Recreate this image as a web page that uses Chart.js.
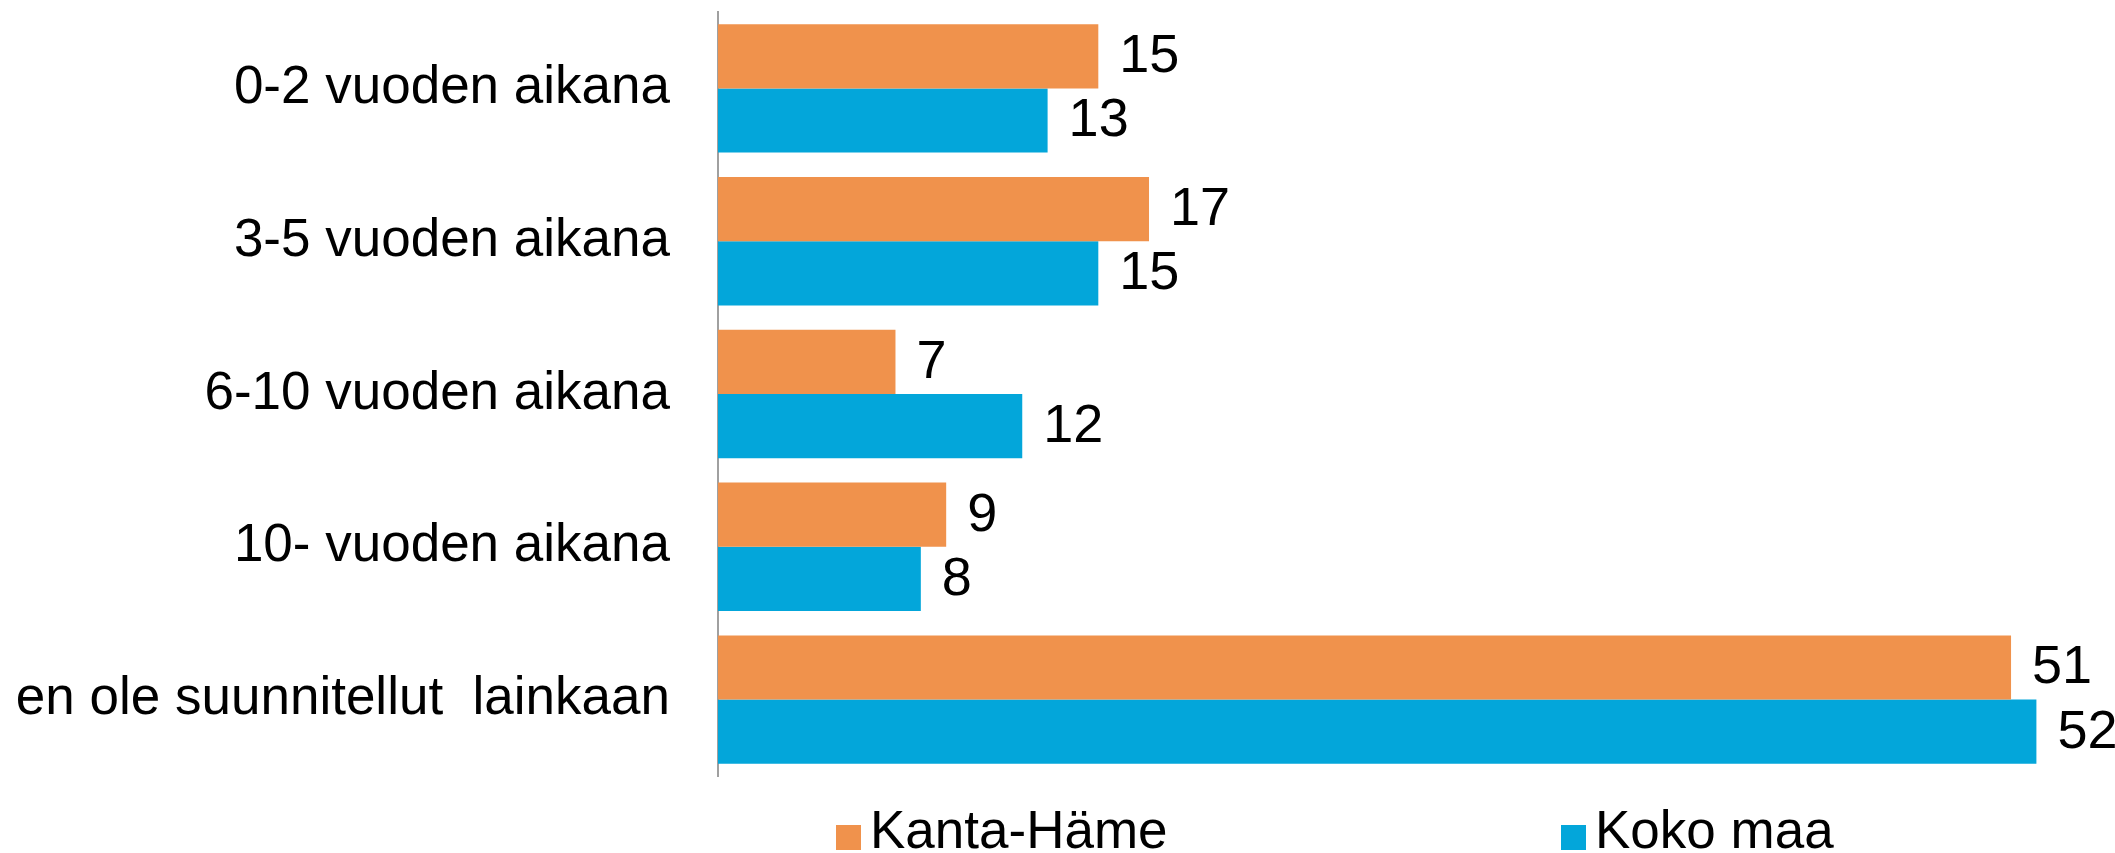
<!DOCTYPE html>
<html>
<head>
<meta charset="utf-8">
<script src="https://cdn.jsdelivr.net/npm/chart.js@4/dist/chart.umd.min.js"></script>
<style>
  html, body { margin: 0; padding: 0; background: #fff; overflow: hidden; }
  #wrap { width: 2115px; height: 853px; position: relative; }
</style>
</head>
<body>
<div id="wrap"><canvas id="myChart"></canvas></div>
<script>
// categories (y axis)
const kategoriat = ["0-2 vuoden aikana", "3-5 vuoden aikana", "6-10 vuoden aikana", "10- vuoden aikana", "en ole suunnitellut  lainkaan"];
// series
const sarjat = ["Kanta-Häme", "Koko maa"];
const kantaHame = [15, 17, 7, 9, 51];
const kokoMaa = [13, 15, 12, 8, 52];
const varit = ["#F0924C", "#03A6DA"];

const fontti = "'Liberation Sans', Arial, sans-serif";

// numbers at the end of each bar
const arvoLabelit = {
  id: 'arvoLabelit',
  afterDatasetsDraw(chart) {
    const ctx = chart.ctx;
    ctx.save();
    ctx.font = "54px " + fontti;
    ctx.fillStyle = "#000";
    ctx.textAlign = "left";
    ctx.textBaseline = "middle";
    chart.data.datasets.forEach((ds, i) => {
      chart.getDatasetMeta(i).data.forEach((bar, j) => {
        ctx.fillText(String(ds.data[j]), bar.x + 21, bar.y + 1);
      });
    });
    ctx.restore();
  }
};

// legend below the plot, items spread out like in the original
const alaLegenda = {
  id: 'alaLegenda',
  afterDraw(chart, args, opts) {
    const ctx = chart.ctx;
    ctx.save();
    ctx.font = "53px " + fontti;
    ctx.textBaseline = "middle";
    chart.data.datasets.forEach((ds, i) => {
      const x = opts.xs[i];
      ctx.fillStyle = ds.backgroundColor;
      ctx.fillRect(x, opts.y - 12, 25, 25);
      ctx.fillStyle = "#000";
      ctx.fillText(ds.label, x + 34, opts.y - 4);
    });
    ctx.restore();
  }
};

new Chart(document.getElementById("myChart"), {
  type: 'bar',
  data: {
    labels: kategoriat,
    datasets: [
      { label: sarjat[0], data: kantaHame, backgroundColor: varit[0] },
      { label: sarjat[1], data: kokoMaa, backgroundColor: varit[1] }
    ]
  },
  options: {
    indexAxis: 'y',
    responsive: true,
    maintainAspectRatio: false,
    animation: false,
    categoryPercentage: 0.84,
    barPercentage: 1.0,
    layout: { padding: { top: 12, right: 0, bottom: 77, left: 0 } },
    scales: {
      x: { display: false, min: 0, max: 55.1 },
      y: {
        grid: { display: false, drawTicks: false },
        border: { display: true, color: '#a0a0a0', width: 2 },
        ticks: { color: '#000', font: { family: fontti, size: 53 }, padding: 48 },
        afterFit(scale) {
          scale.width = 718;
          scale.paddingTop = 0;
          scale.paddingBottom = 0;
        }
      }
    },
    plugins: {
      legend: { display: false },
      tooltip: { enabled: false },
      alaLegenda: { xs: [836, 1561], y: 837 }
    }
  },
  plugins: [arvoLabelit, alaLegenda]
});
</script>
</body>
</html>
